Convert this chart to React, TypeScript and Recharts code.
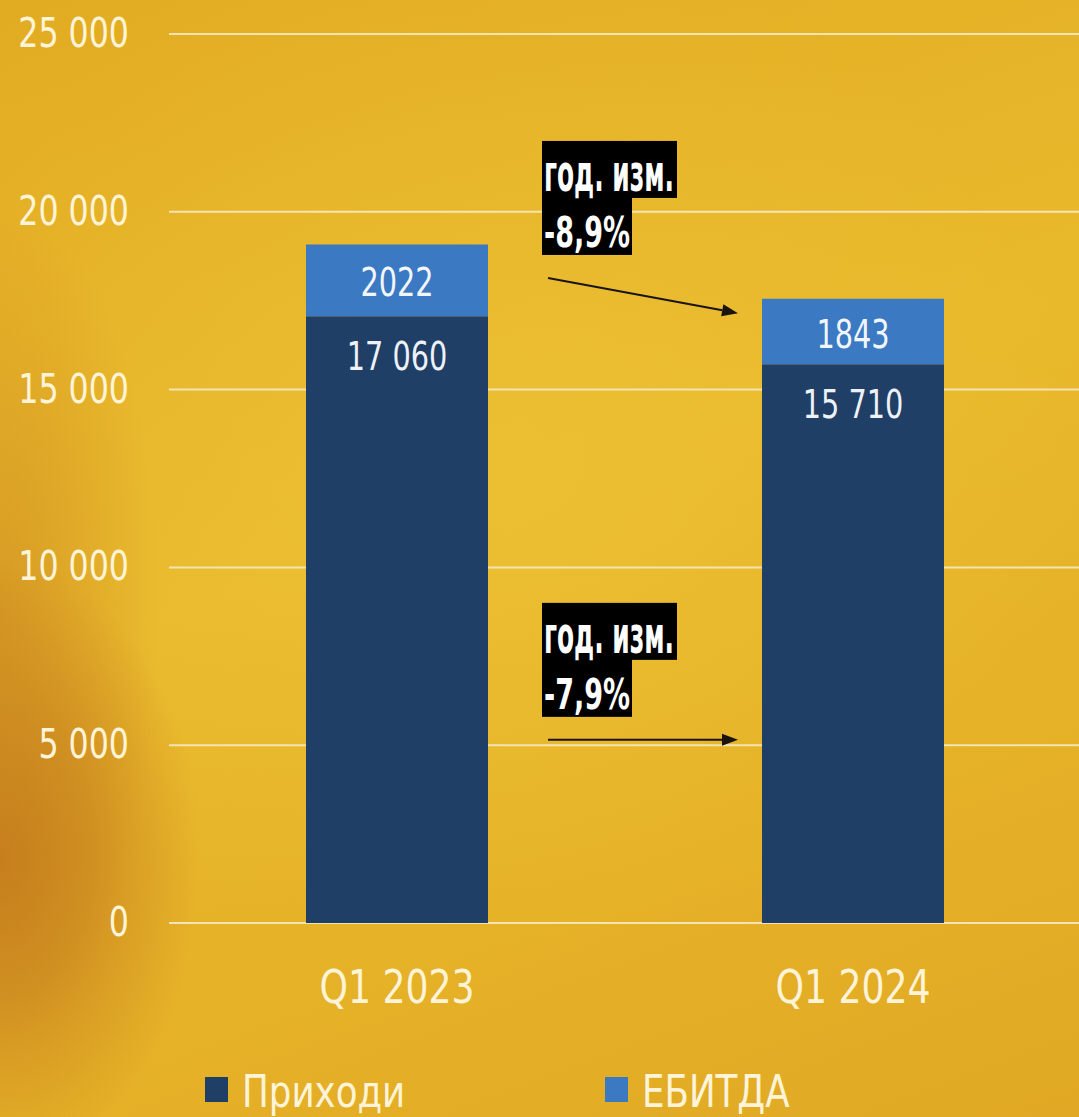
import React from 'react';
import { BarChart, Bar, XAxis, YAxis, CartesianGrid, LabelList, Legend, ReferenceLine } from 'recharts';

const categories = ['Q1 2023', 'Q1 2024'];
const revenue = [17060, 15710];
const ebitda = [2022, 1843];
const yTicks = [0, 5000, 10000, 15000, 20000, 25000];
const seriesNames = ['Приходи', 'ЕБИТДА'];
const annotationTitles = ['год. изм.', 'год. изм.'];
const annotationChanges = ['-8,9%', '-7,9%'];
const annotationFrom = [18140, 5150];
const annotationTo = [17150, 5150];

const data = categories.map((c, i) => ({ name: c, revenue: revenue[i], ebitda: ebitda[i] }));
const annotations = annotationTitles.map((t, i) => ({
  title: t,
  change: annotationChanges[i],
  from: annotationFrom[i],
  to: annotationTo[i],
}));

const FONT = "'DejaVu Sans Condensed', 'Liberation Sans Narrow', sans-serif";
const NAVY = '#1F3F66';
const BLUE = '#3B79C2';
const CREAM = '#FFF4D8';
const BAR_SIZE = 182;

const fmtGroup = (v: number) => String(v).replace(/\B(?=(\d{3})+(?!\d))/g, ' ');

const SText = ({ x, y, anchor, size, fill, sx, sy = 1, weight = 400, children }: any) => (
  <text
    transform={`translate(${x},${y}) scale(${sx},${sy})`}
    x={0}
    y={0}
    textAnchor={anchor}
    fontSize={size}
    fontFamily={FONT}
    fontWeight={weight}
    fill={fill}
  >
    {children}
  </text>
);

const YTick = (props: any) => (
  <SText x={props.x} y={props.y + 13} anchor="end" size={40} fill={CREAM} sx={0.88}>
    {fmtGroup(props.payload.value)}
  </SText>
);

const XTick = (props: any) => (
  <SText x={props.x} y={props.y + 80} anchor="middle" size={46} fill={CREAM} sx={0.875}>
    {props.payload.value}
  </SText>
);

const RevenueLabel = (props: any) => {
  const { x, y, width, value } = props;
  return (
    <SText x={x + width / 2} y={y + 54} anchor="middle" size={39} fill="#EEF2F8" sx={0.82}>
      {fmtGroup(Number(value))}
    </SText>
  );
};

const EbitdaLabel = (props: any) => {
  const { x, y, width, height, value } = props;
  return (
    <SText x={x + width / 2} y={y + height / 2 + 16} anchor="middle" size={39} fill="#F2F6FB" sx={0.82}>
      {String(value)}
    </SText>
  );
};

const makeArrowShape = (title: string, change: string) => (props: any) => {
  const { x1, y1, x2, y2 } = props;
  const sx = x1 + BAR_SIZE / 2 + 60;
  const ex = x2 - BAR_SIZE / 2 - 24;
  const ang = Math.atan2(y2 - y1, ex - sx);
  const hl = 16;
  const hw = 6;
  const bx = ex - hl * Math.cos(ang);
  const by = y2 - hl * Math.sin(ang);
  const p1x = bx + hw * Math.sin(ang);
  const p1y = by - hw * Math.cos(ang);
  const p2x = bx - hw * Math.sin(ang);
  const p2y = by + hw * Math.cos(ang);
  const boxX = sx - 6;
  const boxY = y1 - 137;
  return (
    <g>
      <line x1={sx} y1={y1} x2={bx} y2={by} stroke="#1a1410" strokeWidth={2} />
      <polygon points={`${ex},${y2} ${p1x},${p1y} ${p2x},${p2y}`} fill="#1a1410" />
      <rect x={boxX} y={boxY} width={135} height={57} fill="#000" />
      <rect x={boxX} y={boxY + 56} width={90} height={58} fill="#000" />
      <text
        transform={`translate(${boxX + 2},${boxY + 50}) scale(1,1.45)`}
        x={0}
        y={0}
        fill="#fff"
        fontFamily={FONT}
        fontWeight={700}
        fontSize={36}
        textLength={130}
        lengthAdjust="spacingAndGlyphs"
      >
        {title}
      </text>
      <text
        transform={`translate(${boxX + 2},${boxY + 106}) scale(1,1.05)`}
        x={0}
        y={0}
        fill="#fff"
        fontFamily={FONT}
        fontWeight={700}
        fontSize={41}
        textLength={86}
        lengthAdjust="spacingAndGlyphs"
      >
        {change}
      </text>
    </g>
  );
};

const LegendContent = (props: any) => {
  const payload = [...(props.payload || [])].sort(
    (a: any, b: any) => seriesNames.indexOf(a.value) - seriesNames.indexOf(b.value)
  );
  const lefts = [205, 605];
  return (
    <div style={{ position: 'relative', height: 57, width: '100%' }}>
      {payload.map((p: any, i: number) => (
        <div key={p.value} style={{ position: 'absolute', left: lefts[i], top: 0, height: 57 }}>
          <div style={{ position: 'absolute', left: 0, top: 17, width: 23, height: 25, background: p.color }} />
          <span
            style={{
              position: 'absolute',
              left: 37,
              top: 3,
              lineHeight: '57px',
              fontSize: 44,
              color: CREAM,
              fontFamily: FONT,
              whiteSpace: 'nowrap',
              transform: 'scaleX(0.9)',
              transformOrigin: 'left center',
            }}
          >
            {p.value}
          </span>
        </div>
      ))}
    </div>
  );
};

export default function App() {
  return (
    <div
      style={{
        position: 'absolute',
        left: 0,
        top: 0,
        width: 1079,
        height: 1117,
        overflow: 'hidden',
        background:
          'radial-gradient(ellipse 200px 300px at 0% 860px, rgba(196,124,28,0.95) 0%, rgba(200,130,30,0.7) 45%, rgba(205,140,30,0) 100%), radial-gradient(ellipse 160px 420px at 0% 620px, rgba(200,130,30,0.55) 0%, rgba(205,140,30,0) 100%), radial-gradient(ellipse 600px 500px at 45% 40%, rgba(240,200,60,0.45) 0%, rgba(240,200,60,0) 100%), linear-gradient(160deg, #E2AC22 0%, #E9B92C 45%, #E5B127 75%, #E0A824 100%)',
      }}
    >
      <BarChart
        width={1081}
        height={1117}
        data={data}
        margin={{ top: 34, right: 0, bottom: 0, left: 0 }}
        style={{ fontFamily: FONT }}
      >
        <CartesianGrid vertical={false} stroke="#F4E4B4" strokeWidth={2} />
        <XAxis
          dataKey="name"
          axisLine={false}
          tickLine={false}
          tickSize={0}
          tickMargin={0}
          height={137}
          tick={<XTick />}
        />
        <YAxis
          width={169}
          domain={[0, 25000]}
          ticks={yTicks}
          axisLine={false}
          tickLine={false}
          tickSize={0}
          tickMargin={40}
          tick={<YTick />}
        />
        <Legend verticalAlign="bottom" content={<LegendContent />} wrapperStyle={{ left: 0, width: 1081 }} />
        <Bar dataKey="revenue" name={seriesNames[0]} stackId="a" fill={NAVY} barSize={BAR_SIZE} isAnimationActive={false}>
          <LabelList dataKey="revenue" content={<RevenueLabel />} />
        </Bar>
        <Bar dataKey="ebitda" name={seriesNames[1]} stackId="a" fill={BLUE} barSize={BAR_SIZE} isAnimationActive={false}>
          <LabelList dataKey="ebitda" content={<EbitdaLabel />} />
        </Bar>
        {annotations.map((a, i) => (
          <ReferenceLine
            key={i}
            ifOverflow="visible"
            segment={[
              { x: categories[0], y: a.from },
              { x: categories[1], y: a.to },
            ]}
            shape={makeArrowShape(a.title, a.change)}
          />
        ))}
      </BarChart>
    </div>
  );
}
